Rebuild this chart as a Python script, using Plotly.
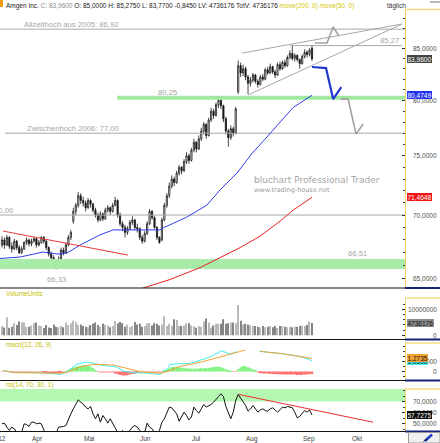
import math
import plotly.graph_objects as go

W, H = 440, 443
FONT = "Liberation Sans, Arial, sans-serif"

# ---------------- data ----------------
bar_index = list(range(-12, 115))  # weekday index, 0 = Mon 2 Apr 2012

opens = [
    67.6, 68.0, 67.6, 68.2, 67.5, 67.3, 67.9, 67.4, 67.0, 67.3, 67.8, 68.0,
    67.7, 67.9, 68.1, 67.6, 67.8, 68.2, 67.9, 67.4, 66.9, 66.6, 66.2,
    66.0, 66.5, 67.2, 67.0, 67.6, 68.2, 69.5, 70.3, 70.8, 71.6,
    71.2, 71.0, 70.6, 71.2, 70.9, 70.4, 70.0, 69.6, 70.1, 69.7,
    70.4, 70.6, 70.3, 70.8, 71.2, 70.0, 69.3, 69.0, 68.6, 68.9,
    69.4, 69.6, 69.0, 68.9, 68.2, 67.9, 68.5, 69.3, 70.3, 69.8,
    69.0, 68.2, 68.0, 69.6, 70.8, 71.6, 72.4, 73.0, 72.7, 73.5,
    74.0, 73.7, 74.5, 75.0, 74.6, 75.5, 76.2, 75.6, 76.5, 77.2,
    77.8, 76.8, 78.2, 79.0, 78.6, 79.6, 80.0, 79.5, 78.3, 77.2,
    76.6, 77.4, 77.0, 80.8, 83.3, 82.6, 83.0, 82.2, 81.6, 81.9,
    82.4, 81.8, 81.5, 82.2, 82.0, 82.9, 82.6, 83.2, 82.7, 82.4,
    83.4, 83.0, 83.6, 83.3, 84.1, 84.5, 84.0, 84.3, 83.9, 83.5,
    84.2, 84.6, 84.4, 85.0,
]
highs = [
    68.3, 68.2, 68.4, 68.3, 67.8, 68.1, 68.0, 67.6, 67.5, 67.9, 68.2, 68.1,
    68.1, 68.2, 68.2, 68.0, 68.3, 68.3, 68.0, 67.5, 67.1, 66.8, 66.5,
    66.7, 67.4, 67.4, 67.8, 68.4, 68.8, 70.6, 71.0, 71.9, 71.8,
    71.5, 71.2, 71.4, 71.3, 71.0, 70.6, 70.2, 70.3, 70.2, 70.6,
    70.8, 70.7, 71.0, 71.5, 71.3, 70.2, 69.5, 69.2, 69.1, 69.6,
    69.9, 69.7, 69.3, 69.0, 68.4, 68.7, 69.5, 70.5, 70.4, 69.9,
    69.1, 68.3, 69.8, 71.0, 71.8, 72.7, 73.3, 73.2, 73.7, 74.2,
    74.1, 74.7, 75.3, 75.2, 75.7, 76.5, 76.3, 76.8, 77.5, 78.0,
    77.9, 78.4, 79.3, 79.2, 79.8, 80.3, 80.2, 79.6, 78.5, 77.4,
    77.7, 77.6, 79.4, 83.8, 83.6, 83.4, 83.2, 82.4, 82.2, 82.6,
    82.5, 82.0, 82.4, 82.5, 83.1, 83.2, 83.5, 83.3, 82.9, 83.6,
    83.7, 83.8, 83.9, 84.3, 84.8, 85.27, 84.5, 84.4, 84.0, 84.4,
    84.9, 84.8, 85.0, 85.275,
]
lows = [
    67.4, 67.3, 67.5, 67.3, 67.0, 67.2, 67.2, 66.9, 66.9, 67.2, 67.6, 67.5,
    67.5, 67.8, 67.4, 67.5, 67.7, 67.7, 67.2, 66.7, 66.4, 65.9, 65.7,
    65.9, 66.4, 66.8, 66.9, 67.5, 68.0, 69.3, 70.0, 70.6, 70.9,
    70.7, 70.3, 70.5, 70.6, 70.2, 69.8, 69.4, 69.5, 69.5, 69.6,
    70.2, 70.0, 70.2, 70.7, 69.8, 69.1, 68.7, 68.2, 68.4, 68.8,
    69.2, 68.8, 68.6, 68.0, 67.7, 67.8, 68.4, 69.2, 69.6, 68.9,
    68.0, 67.7, 67.9, 69.5, 70.6, 71.4, 72.2, 72.4, 72.6, 73.3,
    73.4, 73.6, 74.3, 74.3, 74.5, 75.3, 75.3, 75.5, 76.3, 76.9,
    76.5, 76.7, 78.0, 78.3, 78.5, 79.3, 79.2, 78.0, 76.9, 75.8,
    76.4, 76.7, 76.9, 80.6, 82.2, 82.3, 81.9, 80.6, 81.3, 81.7,
    81.6, 81.2, 81.4, 81.8, 81.9, 82.4, 82.5, 82.5, 82.1, 82.3,
    82.8, 82.9, 83.1, 83.2, 83.9, 83.8, 83.7, 83.7, 83.0, 83.4,
    84.0, 84.1, 84.2, 83.77,
]
closes = [
    68.0, 67.6, 68.2, 67.5, 67.3, 67.9, 67.4, 67.0, 67.3, 67.8, 68.0, 67.7,
    67.9, 68.1, 67.6, 67.8, 68.2, 67.9, 67.4, 66.9, 66.6, 66.2, 66.0,
    66.5, 67.2, 67.0, 67.6, 68.2, 68.6, 70.3, 70.8, 71.6, 71.2,
    71.0, 70.6, 71.2, 70.9, 70.4, 70.0, 69.6, 70.1, 69.7, 70.4,
    70.6, 70.3, 70.8, 71.2, 70.0, 69.3, 69.0, 68.6, 68.9, 69.4,
    69.6, 69.0, 68.9, 68.2, 67.9, 68.5, 69.3, 70.3, 69.8, 69.0,
    68.2, 67.8, 69.6, 70.8, 71.6, 72.4, 73.0, 72.7, 73.5, 74.0,
    73.7, 74.5, 75.0, 74.6, 75.5, 76.2, 75.6, 76.5, 77.2, 77.8,
    76.8, 78.2, 79.0, 78.6, 79.6, 80.0, 79.5, 78.3, 77.2, 76.6,
    77.4, 77.0, 79.2, 83.3, 82.6, 83.0, 82.2, 81.6, 81.9, 82.4,
    81.8, 81.5, 82.2, 82.0, 82.9, 82.6, 83.2, 82.7, 82.4, 83.4,
    83.0, 83.6, 83.3, 84.1, 84.5, 84.0, 84.3, 83.9, 83.5, 84.2,
    84.6, 84.4, 84.805, 83.96,
]
volume_mio = [
    3.6, 3.0, 6.9, 2.9, 3.3, 4.6, 4.0, 5.3, 4.9, 5.0, 3.3, 3.3,
    3.8, 4.6, 4.9, 3.7, 3.6, 2.8, 4.0, 3.0, 2.8, 4.1, 3.3,
    3.1, 3.6, 3.1, 4.9, 4.0, 4.6, 5.6, 5.1, 4.0, 4.2,
    3.6, 3.3, 3.1, 4.0, 4.4, 4.9, 4.0, 3.3, 4.4, 4.1,
    3.8, 3.1, 3.6, 5.5, 4.6, 5.1, 4.6, 3.3, 4.1, 3.1,
    3.6, 5.1, 4.2, 4.4, 3.3, 3.6, 4.5, 4.7, 3.8, 4.6,
    4.4, 3.8, 4.2, 7.3, 3.6, 4.4, 3.7, 6.2, 5.9, 3.6,
    3.6, 3.7, 4.5, 4.6, 3.8, 3.5, 2.9, 3.6, 3.3, 5.3,
    6.5, 4.9, 2.9, 3.8, 4.4, 4.4, 4.4, 6.2, 4.4, 4.6,
    4.9, 4.9, 4.6, 11.7, 5.6, 4.2, 4.4, 4.2, 3.8, 3.6,
    3.6, 3.3, 3.1, 3.6, 3.1, 3.3, 3.6, 3.1, 3.6, 2.8,
    3.6, 3.6, 3.3, 3.1, 3.3, 3.1, 3.3, 3.3, 3.6, 3.8,
    3.6, 4.0, 5.3, 4.736176,
]
macd_hist = [
    -0.03, -0.05, -0.05, -0.06, -0.05,
    -0.06, -0.08, -0.1, -0.1, -0.08, -0.08, -0.1,
    -0.1, -0.1, -0.12, -0.1, -0.12, -0.15, -0.18, -0.2, -0.22, -0.2, -0.2,
    -0.18, -0.15, -0.1, 0.02,
    0.15, 0.25, 0.35, 0.45, 0.5, 0.55, 0.6, 0.6, 0.55, 0.45, 0.3,
    0.1, -0.05, -0.08, -0.08, -0.1, -0.08, -0.1, -0.12,
    -0.2, -0.28, -0.35, -0.4, -0.4, -0.38, -0.3, -0.25, -0.2,
    -0.15, -0.12, -0.1, -0.1, -0.12, -0.1, -0.1, -0.12, -0.1, -0.1, -0.05, 0.05,
    0.15, 0.3, 0.4, 0.45, 0.45, 0.4, 0.35, 0.3, 0.3, 0.28, 0.25, 0.25, 0.25,
    0.28, 0.3, 0.3, 0.32, 0.35, 0.38, 0.42, 0.45, 0.45, 0.4, 0.3, 0.2, 0.1, 0.02,
    -0.05, -0.03,
    0.2, 0.4, 0.55, 0.5, 0.4, 0.3, 0.2,
    0.05, -0.1, -0.15, -0.2, -0.2, -0.22, -0.25, -0.25, -0.25, -0.28, -0.28, -0.3,
    -0.3, -0.3, -0.3, -0.32, -0.32, -0.35, -0.35, -0.33, -0.3, -0.3, -0.28, -0.25,
]
rsi_values = [
    49.7, 50.3, 46.7, 43.7, 46.7, 45.2, 42.0, 40.6, 42.0, 49.7, 49.1, 47.3,
    51.2, 51.2, 49.7, 50.3, 49.7, 42.0, 39.0, 39.0, 39.0, 40.6, 40.6,
    46.7, 46.7, 47.3, 48.2, 54.3, 58.8, 63.3, 67.9, 71.5, 69.4,
    67.9, 64.9, 63.3, 65.5, 58.8, 54.3, 58.8, 51.2, 57.3, 54.3,
    50.3, 54.3, 49.7, 45.2, 42.0, 40.6, 43.7, 41.2, 42.0, 43.7,
    46.7, 48.2, 46.7, 43.7, 41.2, 42.0, 50.3, 46.7, 45.2, 42.0,
    41.2, 43.7, 51.2, 54.3, 60.3, 64.9, 64.3, 61.2, 58.8, 52.1,
    56.4, 60.3, 57.3, 53.3, 55.8, 64.9, 61.8, 59.4, 63.3, 67.3,
    64.9, 66.1, 67.3, 69.4, 72.4, 74.5, 77.0, 74.5, 65.5, 60.3,
    54.3, 60.3, 70.9, 76.4, 73.3, 70.3, 66.4, 61.2, 63.3, 66.4,
    63.3, 60.3, 62.4, 63.3, 61.8, 61.2, 63.3, 64.3, 62.4, 60.3,
    62.4, 64.9, 64.3, 65.5, 64.9, 64.3, 60.3, 55.2, 56.4, 59.4,
    61.8, 60.3, 62.4, 57.7275,
]
for arr in (opens, highs, lows, closes, volume_mio, macd_hist, rsi_values):
    assert len(arr) == len(bar_index), len(arr)

# moving averages (sampled along the curve)
ma50_x = [-12.8, -4.7, 4.7, 10.8, 14.4, 19.7, 23.8, 27.8, 33.1, 44.1, 52.2, 53.5,
          63.2, 71.3, 76.6, 83.5, 89.6, 95.7, 106.3, 114]
ma50_y = [66.55, 66.66, 67.05, 66.89, 66.97, 67.59, 68.0, 68.4, 68.8, 68.8, 68.8, 68.96,
          69.84, 70.82, 72.07, 73.51, 75.2, 76.66, 79.34, 80.4749]
ma200_x = [42.0, 45.3, 56.3, 68.5, 76.6, 84.8, 92.9, 101.0, 106.3, 114]
ma200_y = [64.1, 64.3, 64.94, 65.84, 66.58, 67.4, 68.3, 69.5, 70.4, 71.4648]

# MACD(12,26,9) line and signal (sampled), gaps as in the source
macd_x = [-11.45, -7.4, 4.8, 11.6, 14.3, 18.4, 22.4, 25.1, 27.8, 34.6, 37.3, 41.4,
          46.8, 52.2, 55.0, 56.3, 60.4, 64.4, 68.5, 72.6, 77.3, 80.7, 83.4, None,
          92.6, 95.6, 101.0, 106.4, 110.5, 114.0]
macd_line = [0.1, -0.1, -0.13, -0.3, -0.07, 0.7, 0.93, 0.83, 0.63, 0.43, 0.03, -0.13,
             -0.17, -0.3, 0.17, 0.67, 0.77, 0.77, 1.1, 1.43, 2.03, 1.7, 1.93, None,
             2.03, 1.9, 1.77, 1.6, 1.37, 1.05]
signal_x = [-11.45, -7.4, 11.6, 14.3, 19.7, 25.1, 33.3, 38.7, 44.1, 52.2, 55.0, 60.4,
            68.5, 75.3, 82.0, 86.8, None, 92.9, 101.0, 109.1, 114.0]
signal_line = [0.1, -0.13, -0.17, -0.1, 0.43, 0.7, 0.63, 0.3, -0.03, -0.17, -0.03, 0.5,
               0.9, 1.33, 1.77, 2.1, None, 1.97, 1.77, 1.47, 1.2735]

# drawn levels / trend lines
allzeithoch = 86.92
hoch_85 = 85.27
level_80 = 80.25
zwischenhoch = 77.00
level_70 = 70.00
band_top, band_bottom = 66.51, 65.73
tief = 66.33

trend_red_x, trend_red_y = [-11.6, 39.2], [68.71, 66.81]
wedge_up_x, wedge_up_y = [85.6, 150.6], [84.53, 87.44]
wedge_lo_x, wedge_lo_y = [88.0, 150.6], [80.5, 87.44]
proj_blue_x, proj_blue_y = [114, 119.7, 122.6, 125.9], [83.17, 83.07, 80.12, 81.25]
proj_up_x, proj_up_y = [115.2, 120.1, 122.6, 125.0], [85.53, 85.53, 87.13, 86.22]
proj_dn_x, proj_dn_y = [125.8, 128.7, 131.9, 134.8], [80.12, 80.12, 76.92, 77.83]
rsi_trend_x, rsi_trend_y = [84.3, 138.8], [76.4, 51.2]

month_names = ["Mär '12", "Apr", "Mai", "Jun", "Jul", "Aug", "Sep", "Okt"]
month_start = [-22, 0, 21, 44, 65, 87, 110, 130]
price_ticks = [65, 70, 75, 80, 85]
vol_ticks = [10, 0]
macd_ticks = [1, 0]
rsi_ticks = [70, 60, 50]

# ---------------- helpers ----------------
def fmt4(v):
    return f"{v:.4f}".replace(".", ",")


def fmt2(v):
    return f"{v:.2f}".replace(".", ",")


def dom(top_px, bot_px):
    return [1 - bot_px / H, 1 - top_px / H]


def py(p):
    return 1 - p / H


def px(p):
    return p / W


X0, X1 = -12.8, 151.8
XR = 405.0  # right edge of plotting area in pixels

fig = go.Figure()

GRAY = "#a8a8a8"


def line_trace(xs, ys, color, width, yaxis="y"):
    fig.add_trace(go.Scatter(x=xs, y=ys, mode="lines", yaxis=yaxis,
                             line=dict(color=color, width=width),
                             hoverinfo="skip", showlegend=False))


# --- main panel ---
fig.add_trace(go.Scatter(x=[X0, X1, X1, X0, X0],
                         y=[band_bottom, band_bottom, band_top, band_top, band_bottom],
                         mode="lines", fill="toself", fillcolor="#a9eca9",
                         line=dict(width=0), hoverinfo="skip", showlegend=False))
line_trace([X0, X1], [allzeithoch] * 2, GRAY, 1)
line_trace([105.3, 150.6], [hoch_85] * 2, GRAY, 1)
line_trace([-10.8, X1], [zwischenhoch] * 2, GRAY, 1)
line_trace([X0, X1], [level_70] * 2, GRAY, 1)
line_trace([34.8, X1], [level_80] * 2, "#a0e8a0", 4)
line_trace(wedge_up_x, wedge_up_y, GRAY, 1)
line_trace(wedge_lo_x, wedge_lo_y, GRAY, 1)

fig.add_trace(go.Candlestick(
    x=bar_index, open=opens, high=highs, low=lows, close=closes,
    increasing=dict(line=dict(color="#151515", width=0.8), fillcolor="#ffffff"),
    decreasing=dict(line=dict(color="#151515", width=0.8), fillcolor="#151515"),
    whiskerwidth=0, hoverinfo="skip", showlegend=False))

line_trace(ma200_x, ma200_y, "#e82020", 1)
line_trace(ma50_x, ma50_y, "#2f3ee8", 1)
line_trace(trend_red_x, trend_red_y, "#e83a3a", 1)
line_trace(proj_up_x, proj_up_y, "#a0a0a0", 1.6)
line_trace(proj_dn_x, proj_dn_y, "#a0a0a0", 1.6)
line_trace(proj_blue_x, proj_blue_y, "#2238d0", 2.2)

# --- volume ---
vol_colors = ["#b9b9b9" if c >= o else "#858585" for o, c in zip(opens, closes)]
fig.add_trace(go.Bar(x=bar_index, y=volume_mio, width=0.5, yaxis="y2",
                     marker=dict(color=vol_colors, line=dict(width=0)),
                     hoverinfo="skip", showlegend=False))

# --- MACD ---
hist_colors = []
for v in macd_hist:
    if v >= 0:
        hist_colors.append("#7ef27e")
    elif v > -0.13:
        hist_colors.append("#ffbcbc")
    else:
        hist_colors.append("#ff6b6b")
fig.add_trace(go.Bar(x=bar_index, y=macd_hist, width=1.0, yaxis="y3",
                     marker=dict(color=hist_colors, line=dict(width=0)),
                     hoverinfo="skip", showlegend=False))
line_trace(macd_x, macd_line, "#3ff0f0", 1, "y3")
line_trace(signal_x, signal_line, "#f3a133", 1, "y3")

# --- RSI ---
fig.add_trace(go.Scatter(x=[X0, X1, X1, X0, X0], y=[70, 70, 100, 100, 70], yaxis="y4",
                         mode="lines", fill="toself", fillcolor="#b3f7b3",
                         line=dict(width=0), hoverinfo="skip", showlegend=False))
line_trace(bar_index, rsi_values, "#101010", 1, "y4")
line_trace(rsi_trend_x, rsi_trend_y, "#f03030", 1, "y4")

# ---------------- axes ----------------
D_MAIN = dom(9.5, 288)
D_VOL = dom(298, 339.5)
D_MACD = dom(343, 380.5)
D_RSI = dom(389, 431.5)
R_MAIN = [math.log10(64.30), math.log10(88.93)]
R_VOL = [-1.62, 14.35]
R_MACD = [-0.9, 2.8]
R_RSI = [42.73, 81.36]


def right_axis(domain, rng, tickvals, minor_vals, typ="linear"):
    return dict(domain=domain, range=rng, type=typ, side="right", anchor="x",
                showline=True, linecolor="#f2d266", linewidth=1,
                ticks="inside", ticklen=3, tickwidth=1, tickcolor="#303030",
                tickvals=tickvals, showticklabels=False, showgrid=False,
                zeroline=False, fixedrange=True,
                minor=dict(tickvals=minor_vals, ticks="inside", ticklen=2,
                           tickcolor="#404040", showgrid=False))


def left_axis(over, rng, minor_vals, typ="linear"):
    return dict(overlaying=over, range=rng, type=typ, side="left", anchor="x",
                showline=False, ticks="inside", ticklen=2, tickwidth=1,
                tickcolor="#505050", tickvals=minor_vals, showticklabels=False,
                showgrid=False, zeroline=False, fixedrange=True)


main_minor = list(range(64, 89))
vol_minor = [0, 2, 4, 6, 8, 10, 12, 14]
macd_minor = [-0.5, 0, 0.5, 1, 1.5, 2, 2.5]
rsi_minor = [45, 50, 55, 60, 65, 70, 75, 80]

fig.update_layout(
    width=W, height=H, autosize=False,
    margin=dict(l=0, r=0, t=0, b=0, pad=0),
    paper_bgcolor="white", plot_bgcolor="white",
    showlegend=False, barmode="overlay",
    font=dict(family=FONT, size=6.5, color="#404040"),
    xaxis=dict(domain=[0, XR / W], range=[X0, X1], anchor="y4",
               showticklabels=False, ticks="", showgrid=False, zeroline=False,
               showline=False, fixedrange=True, rangeslider=dict(visible=False)),
    yaxis=right_axis(D_MAIN, R_MAIN, price_ticks, main_minor, "log"),
    yaxis2=right_axis(D_VOL, R_VOL, vol_ticks, vol_minor),
    yaxis3=right_axis(D_MACD, R_MACD, macd_ticks, macd_minor),
    yaxis4=right_axis(D_RSI, R_RSI, rsi_ticks, rsi_minor),
    yaxis5=left_axis("y", R_MAIN, main_minor, "log"),
    yaxis6=left_axis("y2", R_VOL, vol_minor),
    yaxis7=left_axis("y3", R_MACD, macd_minor),
    yaxis8=left_axis("y4", R_RSI, rsi_minor),
)

# ---------------- annotations ----------------
ann = []
LEVEL_FONT = dict(family=FONT, size=7.7, color="#a6a6a6")
L10 = math.log10


def level_label(text, x, value, anchor="left", shift=4.6):
    ann.append(dict(text=text, x=x, y=L10(value), xref="x", yref="y",
                    xanchor=anchor, yanchor="middle", yshift=shift,
                    showarrow=False, font=LEVEL_FONT))


level_label(f"Allzeithoch aus 2005: {fmt2(allzeithoch)}", -3.9, allzeithoch)
level_label(f"Zwischenhoch 2006: {fmt2(zwischenhoch)}", -2.6, zwischenhoch)
level_label(fmt2(level_80), 50.6, level_80, shift=5.5)
level_label(fmt2(hoch_85), 140.9, hoch_85)
level_label(fmt2(level_70), -6.9, level_70, anchor="right", shift=5)
level_label(fmt2(band_top), 127.8, band_top, shift=5)
ann.append(dict(text=fmt2(tief), x=10.0, y=L10(64.95), xref="x", yref="y",
                xanchor="center", yanchor="middle", showarrow=False, font=LEVEL_FONT))

# watermark
ann.append(dict(text="bluchart Professional Trader", x=px(252), y=py(179.5),
                xref="paper", yref="paper", xanchor="left", yanchor="middle",
                showarrow=False, font=dict(family="DejaVu Sans", size=9, color="#a4a4a4")))
ann.append(dict(text="www.trading-house.net", x=px(252), y=py(190),
                xref="paper", yref="paper", xanchor="left", yanchor="middle",
                showarrow=False, font=dict(family="DejaVu Sans", size=6.5, color="#9a9a9a")))

# header line
vol_last = int(round(volume_mio[-1] * 1e6))
header = (f"Amgen Inc. <span style='color:#8c8c8c'>C: {fmt4(closes[-1])}</span> "
          f"O: {fmt4(opens[-1])} H: {fmt4(highs[-1])} L: {fmt4(lows[-1])} "
          f"{fmt4(closes[-1] - closes[-2])} LV: {vol_last} TotV: {vol_last} "
          f"<span style='color:#d6c800'>move(200, 0) move(50, 0)</span>")
ann.append(dict(text=header, x=px(4), y=py(5.5), xref="paper", yref="paper",
                xanchor="left", yanchor="middle", showarrow=False,
                font=dict(family=FONT, size=6.5, color="#1a1a1a")))
ann.append(dict(text="täglich", x=px(385), y=py(5.5), xref="paper", yref="paper",
                xanchor="left", yanchor="middle", showarrow=False,
                font=dict(family=FONT, size=6.5, color="#303030")))

TITLE_FONT = dict(family=FONT, size=6.5, color="#c8be00")
for txt, ypx in [("VolumeUnits", 293.5), ("macd(12, 26, 9)", 345), ("rsi(14, 70, 30, 1)", 384.5)]:
    ann.append(dict(text=txt, x=px(4), y=py(ypx), xref="paper", yref="paper",
                    xanchor="left", yanchor="middle", showarrow=False, font=TITLE_FONT))

# month labels
for i, (name, start) in enumerate(zip(month_names, month_start)):
    if i == 0:
        ann.append(dict(text=name, x=-9.35, y=py(438.5), xref="x", yref="paper",
                        xanchor="right", yanchor="middle", showarrow=False,
                        font=dict(family=FONT, size=6.5, color="#404040")))
    else:
        ann.append(dict(text=name, x=start - 0.6, y=py(438.5), xref="x", yref="paper",
                        xanchor="left", yanchor="middle", showarrow=False,
                        font=dict(family=FONT, size=6.5, color="#404040")))

# right axis labels (right aligned)
AX_FONT = dict(family=FONT, size=6.5, color="#505050")


def axis_label(text, yval, yref):
    ann.append(dict(text=text, x=px(438.5), y=yval, xref="paper", yref=yref,
                    xanchor="right", yanchor="middle", showarrow=False, font=AX_FONT))


for v in price_ticks:
    axis_label(f"{v},0000", L10(v), "y")
axis_label("10000000", 10, "y2")
axis_label("0", 0, "y2")
axis_label("1,0000", 1, "y3")
axis_label("0", 0, "y3")
for v in rsi_ticks:
    axis_label(f"{v},0000", v, "y4")


def value_box(text, yval, yref, bg, fg):
    ann.append(dict(text=text, x=px(406.5), y=yval, xref="paper", yref=yref,
                    xanchor="left", yanchor="middle", showarrow=False,
                    bgcolor=bg, borderpad=0.5, borderwidth=0,
                    font=dict(family=FONT, size=6.5, color=fg)))


value_box(fmt4(closes[-1]), L10(closes[-1]), "y", "#454545", "#ffffff")
value_box(fmt4(ma50_y[-1]), L10(ma50_y[-1]), "y", "#2334ee", "#ffffff")
value_box(fmt4(ma200_y[-1]), L10(ma200_y[-1]), "y", "#f01515", "#ffffff")
value_box(str(vol_last), volume_mio[-1], "y2", "#8a8a8a", "#101010")
value_box(fmt4(macd_line[-1]), macd_line[-1], "y3", "#3ff0f0", "#101010")
value_box(fmt4(signal_line[-1]), signal_line[-1], "y3", "#f3a133", "#101010")
value_box(fmt4(rsi_values[-1]), rsi_values[-1], "y4", "#0c0c0c", "#ffffff")

# ---------------- frame shapes ----------------
shapes = []


def pline(x0, y0, x1, y1, color, width):
    shapes.append(dict(type="line", xref="paper", yref="paper",
                       x0=px(x0), x1=px(x1), y0=py(y0), y1=py(y1),
                       line=dict(color=color, width=width), layer="above"))


for ysep in (288, 339.5, 380.5, 431.5):
    pline(0, ysep, XR, ysep, "#111111", 1.2)
    pline(XR, ysep, W, ysep, "#16237a", 2)
for ytop in (9.5, 298, 343, 389):
    pline(XR, ytop, W, ytop, "#f6dc84", 1.5)

shapes.append(dict(type="rect", xref="paper", yref="paper", x0=px(408.5), x1=px(440),
                   y0=py(443), y1=py(432.5), fillcolor="#efefef",
                   line=dict(color="#9a9a9a", width=1), layer="above"))
pline(425, 441, 432, 434.5, "#1f3cc8", 2.5)
pline(423.5, 441.5, 427, 438.5, "#111111", 1)
shapes.append(dict(type="rect", xref="paper", yref="paper", x0=0, x1=px(3),
                   y0=py(7), y1=py(0), fillcolor="#f39a1b", line=dict(width=0)))
pline(430, 2, 440, 2, "#707070", 1)

fig.update_layout(annotations=ann, shapes=shapes)

fig.write_html("out.html", include_plotlyjs=True, config={"displayModeBar": False})
